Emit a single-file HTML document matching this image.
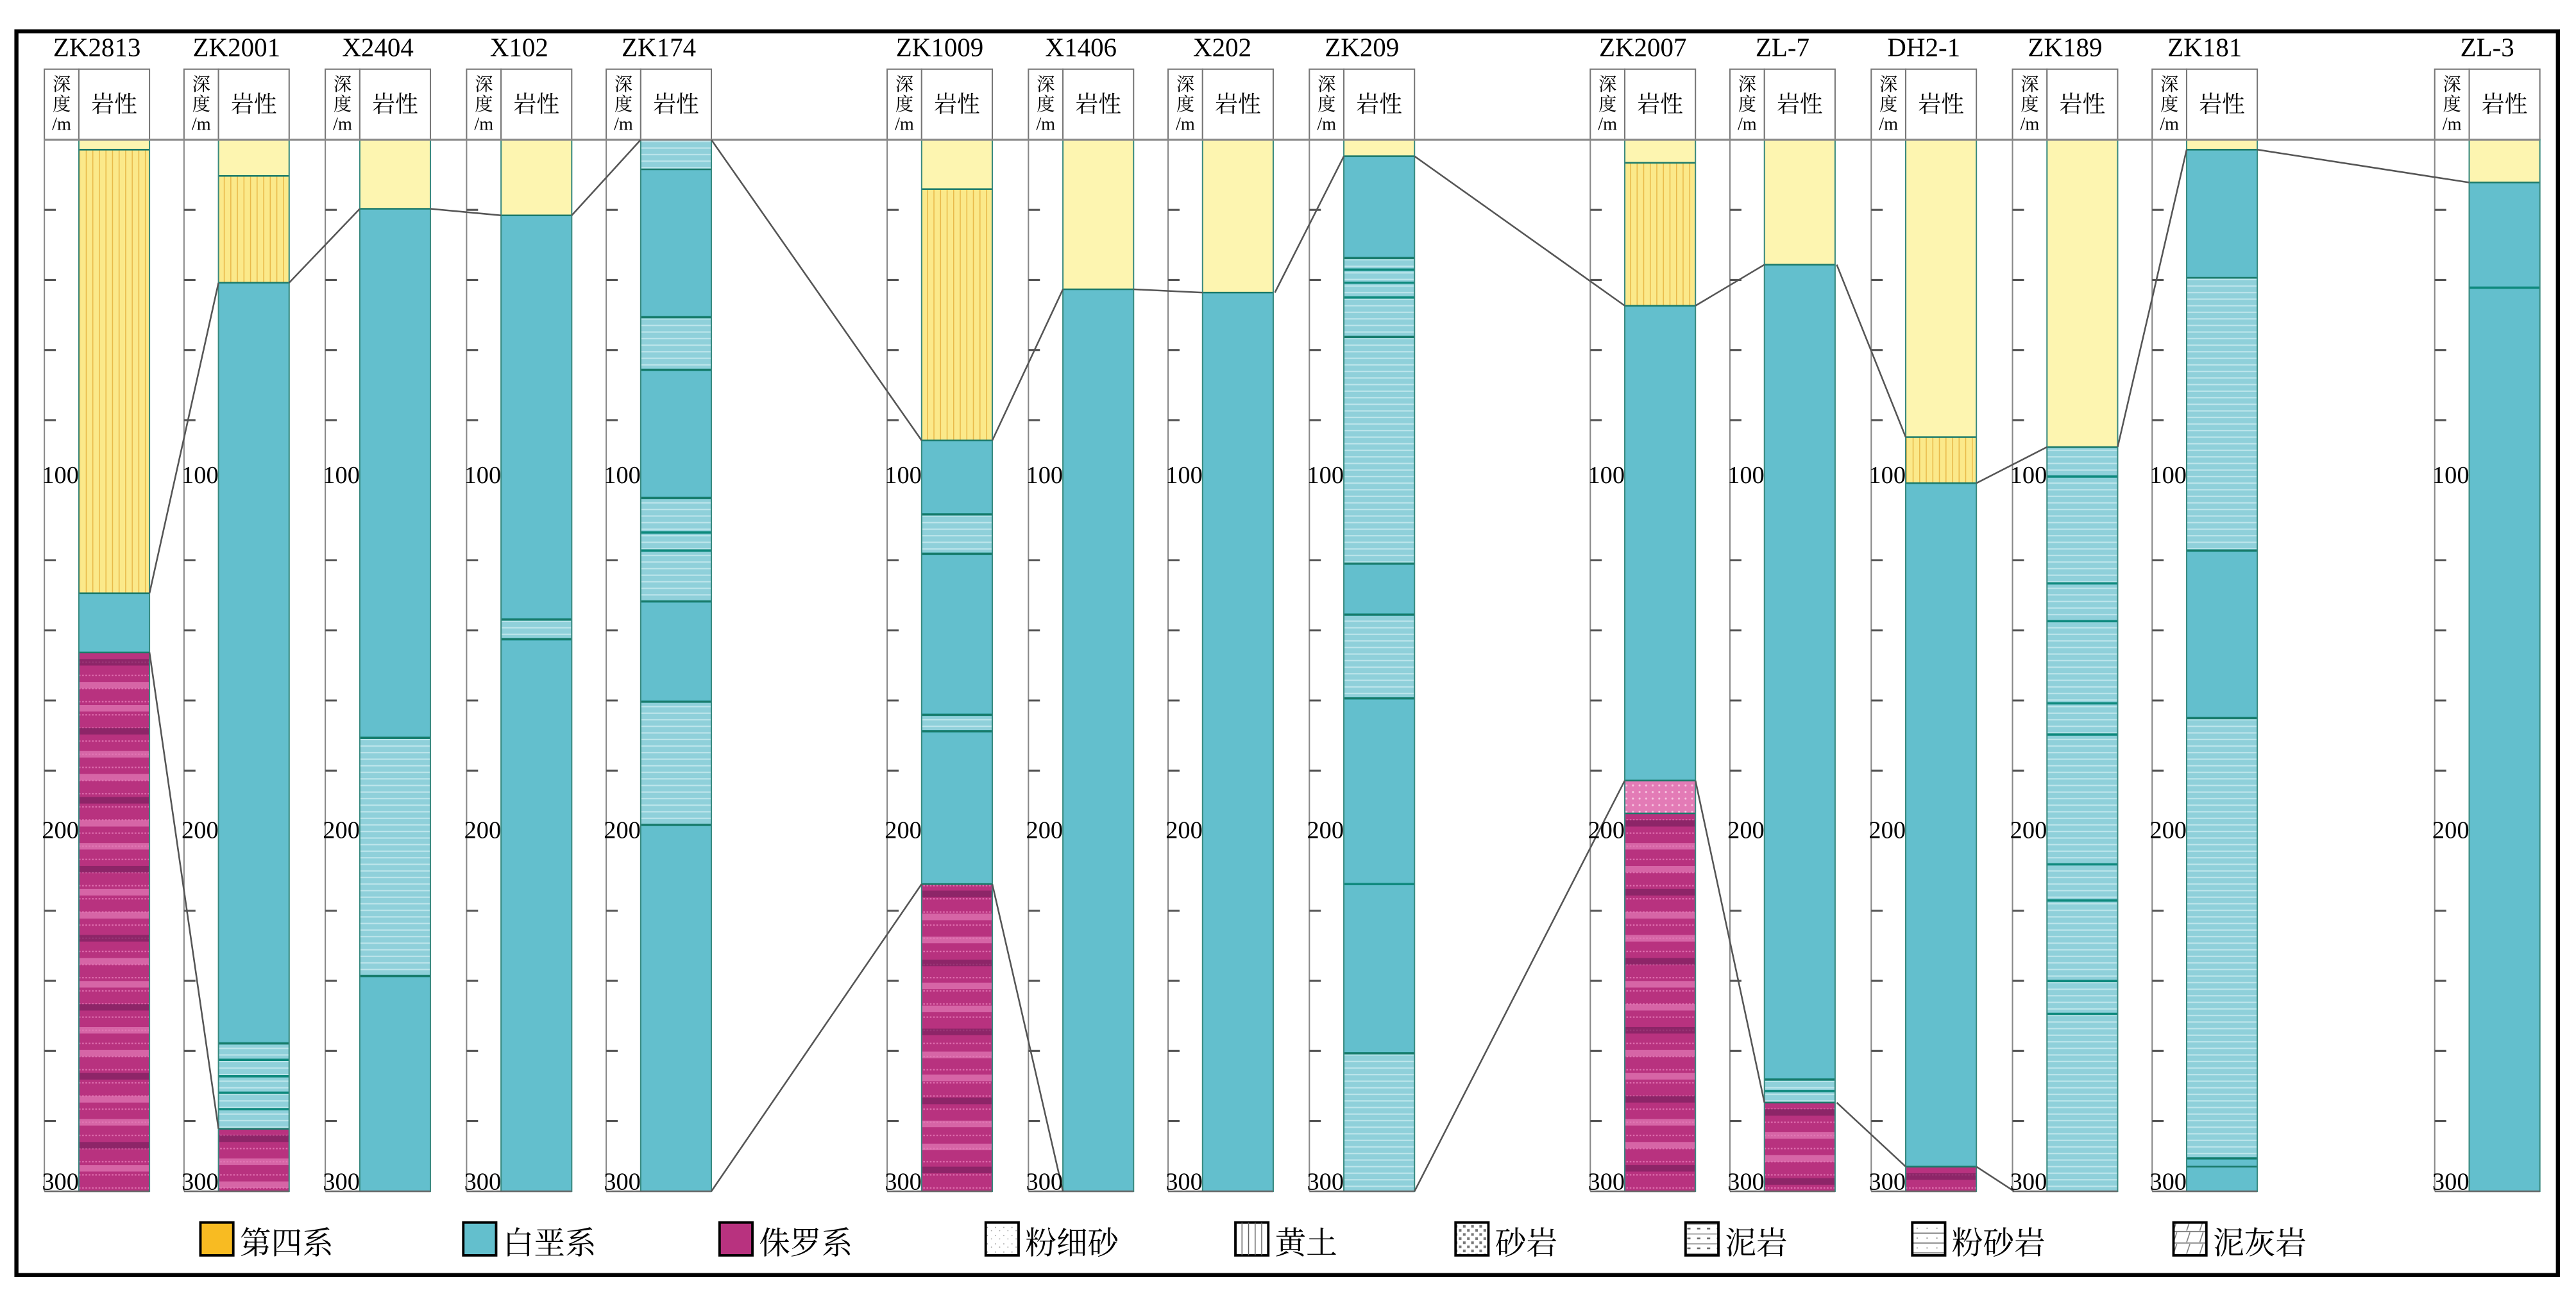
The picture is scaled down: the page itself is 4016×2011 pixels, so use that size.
<!DOCTYPE html>
<html><head><meta charset="utf-8"><style>
html,body{margin:0;padding:0;background:#fff;}
svg{display:block}
text{font-family:"Liberation Serif","Noto Serif CJK SC",serif;}
.cn{font-family:"Liberation Serif","Noto Serif CJK SC","Noto Sans CJK SC",serif;}
</style></head><body>
<svg id="s" width="4016" height="2011" viewBox="0 0 1568 785" xmlns="http://www.w3.org/2000/svg">
<defs>
<pattern id="loess" width="4" height="10" patternUnits="userSpaceOnUse"><rect width="4" height="10" fill="#fbe98a"/><line x1="0.5" y1="0" x2="0.5" y2="10" stroke="#e8b94a" stroke-width="0.6"/></pattern>
<pattern id="tlight" width="6" height="4" patternUnits="userSpaceOnUse"><rect width="6" height="4" fill="#8fd0da"/><line x1="0" y1="2" x2="6" y2="2" stroke="#bfe6ec" stroke-width="0.8"/></pattern>
<pattern id="mag" width="6" height="8" patternUnits="userSpaceOnUse"><rect width="6" height="8" fill="#b8327f"/><line x1="0" y1="3" x2="6" y2="3" stroke="#e070b0" stroke-width="0.8" stroke-dasharray="1 1"/></pattern>
<pattern id="pdot" width="4" height="4" patternUnits="userSpaceOnUse"><rect width="4" height="4" fill="#e37bb6"/><circle cx="2" cy="2" r="0.6" fill="#f6c6e0"/></pattern>
<pattern id="lsand" width="5" height="5" patternUnits="userSpaceOnUse"><rect width="5" height="5" fill="#fff"/><circle cx="1" cy="2" r="0.35" fill="#999"/><circle cx="3.5" cy="4" r="0.35" fill="#999"/></pattern>
<pattern id="lss" width="5" height="5" patternUnits="userSpaceOnUse"><rect width="5" height="5" fill="#fff"/><rect x="0.5" y="0.5" width="1.6" height="1.6" fill="#777"/><rect x="3" y="3" width="1.6" height="1.6" fill="#777"/></pattern>
<pattern id="lmud" width="6" height="6" patternUnits="userSpaceOnUse"><rect width="6" height="6" fill="#fff"/><line x1="0" y1="1" x2="6" y2="1" stroke="#888" stroke-width="0.6"/><rect x="1" y="3.2" width="2" height="1" fill="#666"/></pattern>
<pattern id="lsilt" width="6" height="6" patternUnits="userSpaceOnUse"><rect width="6" height="6" fill="#fff"/><line x1="0" y1="0.5" x2="6" y2="0.5" stroke="#777" stroke-width="0.7"/><circle cx="3" cy="3.5" r="0.4" fill="#888"/></pattern>
<pattern id="lmarl" width="8" height="7" patternUnits="userSpaceOnUse"><rect width="8" height="7" fill="#fff"/><line x1="0" y1="0.5" x2="8" y2="0.5" stroke="#777" stroke-width="0.7"/><line x1="5" y1="1" x2="3" y2="7" stroke="#777" stroke-width="0.6"/></pattern>
</defs>
<rect x="10" y="19" width="1547" height="757" fill="#fff" stroke="#000" stroke-width="2.5"/>
<g id="g"></g>
<g font-size="16" text-anchor="middle">
<text x="59" y="34">ZK2813</text><text x="144" y="34">ZK2001</text><text x="230" y="34">X2404</text><text x="316" y="34">X102</text><text x="401" y="34">ZK174</text>
<text x="572" y="34">ZK1009</text><text x="658" y="34">X1406</text><text x="744" y="34">X202</text><text x="829" y="34">ZK209</text>
<text x="1000" y="34">ZK2007</text><text x="1085" y="34">ZL-7</text><text x="1171" y="34">DH2-1</text><text x="1257" y="34">ZK189</text><text x="1342" y="34">ZK181</text><text x="1514" y="34">ZL-3</text>
</g>
<g font-size="19" class="cn">
<rect x="122" y="744" width="20" height="20" fill="#f8bb22" stroke="#000" stroke-width="1.5"/><text x="146" y="763">第四系</text>
<rect x="282" y="744" width="20" height="20" fill="#63bfcd" stroke="#000" stroke-width="1.5"/><text x="306" y="763">白垩系</text>
<rect x="438" y="744" width="20" height="20" fill="#b8327f" stroke="#000" stroke-width="1.5"/><text x="462" y="763">侏罗系</text>
<rect x="600" y="744" width="20" height="20" fill="url(#lsand)" stroke="#000" stroke-width="1.5"/><text x="624" y="763">粉细砂</text>
<rect x="752" y="744" width="20" height="20" fill="#fff" stroke="#000" stroke-width="1.5"/><g stroke="#666" stroke-width="0.6"><line x1="756" y1="744" x2="756" y2="764"/><line x1="760" y1="744" x2="760" y2="764"/><line x1="764" y1="744" x2="764" y2="764"/><line x1="768" y1="744" x2="768" y2="764"/></g><text x="776" y="763">黄土</text>
<rect x="886" y="744" width="20" height="20" fill="url(#lss)" stroke="#000" stroke-width="1.5"/><text x="910" y="763">砂岩</text>
<rect x="1026" y="744" width="20" height="20" fill="url(#lmud)" stroke="#000" stroke-width="1.5"/><text x="1050" y="763">泥岩</text>
<rect x="1164" y="744" width="20" height="20" fill="url(#lsilt)" stroke="#000" stroke-width="1.5"/><text x="1188" y="763">粉砂岩</text>
<rect x="1323" y="744" width="20" height="20" fill="url(#lmarl)" stroke="#000" stroke-width="1.5"/><text x="1347" y="763">泥灰岩</text>
</g>
<g font-size="15" text-anchor="end" id="nums">
<text x="48" y="294">100</text><text x="48" y="510">200</text><text x="48" y="724">300</text>
<text x="133" y="294">100</text><text x="133" y="510">200</text><text x="133" y="724">300</text>
<text x="219" y="294">100</text><text x="219" y="510">200</text><text x="219" y="724">300</text>
<text x="305" y="294">100</text><text x="305" y="510">200</text><text x="305" y="724">300</text>
<text x="390" y="294">100</text><text x="390" y="510">200</text><text x="390" y="724">300</text>
<text x="561" y="294">100</text><text x="561" y="510">200</text><text x="561" y="724">300</text>
<text x="647" y="294">100</text><text x="647" y="510">200</text><text x="647" y="724">300</text>
<text x="732" y="294">100</text><text x="732" y="510">200</text><text x="732" y="724">300</text>
<text x="818" y="294">100</text><text x="818" y="510">200</text><text x="818" y="724">300</text>
<text x="989" y="294">100</text><text x="989" y="510">200</text><text x="989" y="724">300</text>
<text x="1074" y="294">100</text><text x="1074" y="510">200</text><text x="1074" y="724">300</text>
<text x="1160" y="294">100</text><text x="1160" y="510">200</text><text x="1160" y="724">300</text>
<text x="1246" y="294">100</text><text x="1246" y="510">200</text><text x="1246" y="724">300</text>
<text x="1331" y="294">100</text><text x="1331" y="510">200</text><text x="1331" y="724">300</text>
<text x="1503" y="294">100</text><text x="1503" y="510">200</text><text x="1503" y="724">300</text>
</g>
<g font-size="11" text-anchor="middle" class="cn">
<g><text x="37.5" y="55">深</text><text x="37.5" y="67">度</text><text x="37.5" y="79">/m</text><text x="69.5" y="68" font-size="14">岩性</text></g>
<g transform="translate(85,0)"><text x="37.5" y="55">深</text><text x="37.5" y="67">度</text><text x="37.5" y="79">/m</text><text x="69.5" y="68" font-size="14">岩性</text></g>
<g transform="translate(171,0)"><text x="37.5" y="55">深</text><text x="37.5" y="67">度</text><text x="37.5" y="79">/m</text><text x="69.5" y="68" font-size="14">岩性</text></g>
<g transform="translate(257,0)"><text x="37.5" y="55">深</text><text x="37.5" y="67">度</text><text x="37.5" y="79">/m</text><text x="69.5" y="68" font-size="14">岩性</text></g>
<g transform="translate(342,0)"><text x="37.5" y="55">深</text><text x="37.5" y="67">度</text><text x="37.5" y="79">/m</text><text x="69.5" y="68" font-size="14">岩性</text></g>
<g transform="translate(513,0)"><text x="37.5" y="55">深</text><text x="37.5" y="67">度</text><text x="37.5" y="79">/m</text><text x="69.5" y="68" font-size="14">岩性</text></g>
<g transform="translate(599,0)"><text x="37.5" y="55">深</text><text x="37.5" y="67">度</text><text x="37.5" y="79">/m</text><text x="69.5" y="68" font-size="14">岩性</text></g>
<g transform="translate(684,0)"><text x="37.5" y="55">深</text><text x="37.5" y="67">度</text><text x="37.5" y="79">/m</text><text x="69.5" y="68" font-size="14">岩性</text></g>
<g transform="translate(770,0)"><text x="37.5" y="55">深</text><text x="37.5" y="67">度</text><text x="37.5" y="79">/m</text><text x="69.5" y="68" font-size="14">岩性</text></g>
<g transform="translate(941,0)"><text x="37.5" y="55">深</text><text x="37.5" y="67">度</text><text x="37.5" y="79">/m</text><text x="69.5" y="68" font-size="14">岩性</text></g>
<g transform="translate(1026,0)"><text x="37.5" y="55">深</text><text x="37.5" y="67">度</text><text x="37.5" y="79">/m</text><text x="69.5" y="68" font-size="14">岩性</text></g>
<g transform="translate(1112,0)"><text x="37.5" y="55">深</text><text x="37.5" y="67">度</text><text x="37.5" y="79">/m</text><text x="69.5" y="68" font-size="14">岩性</text></g>
<g transform="translate(1198,0)"><text x="37.5" y="55">深</text><text x="37.5" y="67">度</text><text x="37.5" y="79">/m</text><text x="69.5" y="68" font-size="14">岩性</text></g>
<g transform="translate(1283,0)"><text x="37.5" y="55">深</text><text x="37.5" y="67">度</text><text x="37.5" y="79">/m</text><text x="69.5" y="68" font-size="14">岩性</text></g>
<g transform="translate(1455,0)"><text x="37.5" y="55">深</text><text x="37.5" y="67">度</text><text x="37.5" y="79">/m</text><text x="69.5" y="68" font-size="14">岩性</text></g>
</g>
</svg>
<script>
var NS="http://www.w3.org/2000/svg",g=document.getElementById('g');
function el(t,a,p){var e=document.createElementNS(NS,t);for(var k in a)e.setAttribute(k,a[k]);(p||g).appendChild(e);return e;}
var X=[27,112,198,284,369,540,626,711,797,968,1053,1139,1225,1310,1482];
var Y='#fdf5b0',L='url(#loess)',T='#63bfcd',TL='url(#tlight)',M='url(#mag)',P='url(#pdot)';
var W=[
[[85,91,Y],[91,361,L],[361,397,T],[397,725,M]],
[[85,107,Y],[107,172,L],[172,635,T],[635,687,TL],[687,725,M]],
[[85,127,Y],[127,449,T],[449,594,TL],[594,725,T]],
[[85,131,Y],[131,377,T],[377,389,TL],[389,725,T]],
[[85,103,TL],[103,193,T],[193,225,TL],[225,303,T],[303,366,TL],[366,427,T],[427,502,TL],[502,725,T]],
[[85,115,Y],[115,268,L],[268,313,T],[313,337,TL],[337,435,T],[435,445,TL],[445,538,T],[538,725,M]],
[[85,176,Y],[176,725,T]],
[[85,178,Y],[178,725,T]],
[[85,95,Y],[95,157,T],[157,205,TL],[205,343,TL],[343,374,T],[374,425,TL],[425,641,T],[641,725,TL]],
[[85,99,Y],[99,186,L],[186,475,T],[475,495,P],[495,725,M]],
[[85,161,Y],[161,657,T],[657,671,TL],[671,725,M]],
[[85,266,Y],[266,294,L],[294,710,T],[710,725,M]],
[[85,272,Y],[272,725,TL]],
[[85,91,Y],[91,169,T],[169,335,TL],[335,437,T],[437,705,TL],[705,710,T],[710,725,T]],
[[85,111,Y],[111,725,T]]];
var lines={4:[193,225,303,324,335,366,427,502],8:[157,164,172,181,205,343,374,425,538,641],12:[290,355,378,428,447,526,548,597,617],13:[335,437,705],14:[175],2:[449,594],3:[377,389],1:[635,645,655,665,675],5:[313,337,435,445],10:[657,664]};
X.forEach(function(x,i){
 var lx=x+21,w=43;
 el('rect',{x:x,y:42,width:21,height:43,fill:'#fff',stroke:'#777','stroke-width':0.8});
 el('rect',{x:lx,y:42,width:w,height:43,fill:'#fff',stroke:'#777','stroke-width':0.8});
 W[i].forEach(function(s){el('rect',{x:lx,y:s[0],width:w,height:s[1]-s[0],fill:s[2]});
  if(s[2]===M){var k=0;for(var yy=s[0]+4;yy<s[1]-3;yy+=14,k++)el('rect',{x:lx,y:yy,width:w,height:4,fill:(k%3==0)?'#7a1f5e':'#e37bb6',opacity:0.7});}
 });
 (lines[i]||[]).forEach(function(yy){el('line',{x1:lx,y1:yy,x2:lx+w,y2:yy,stroke:'#0f8a7e','stroke-width':1.4});});
 W[i].forEach(function(s){if(s[0]>85)el('line',{x1:lx,y1:s[0],x2:lx+w,y2:s[0],stroke:'#1a7a6a','stroke-width':1});});
 el('rect',{x:lx,y:85,width:w,height:640,fill:'none',stroke:'#3a8a80','stroke-width':0.8});
 el('line',{x1:x,y1:85,x2:x,y2:725,stroke:'#888','stroke-width':0.8});
 el('line',{x1:x,y1:725,x2:lx+w,y2:725,stroke:'#666','stroke-width':1});
 for(var d=20;d<300;d+=20){if(d%100)el('line',{x1:x,y1:85+d*2.133,x2:x+7,y2:85+d*2.133,stroke:'#555','stroke-width':1.2});}
});
el('line',{x1:27,y1:85,x2:1546,y2:85,stroke:'#888','stroke-width':1.2});
var C=[[91,361,133,172],[91,397,133,687],[176,172,219,127],[262,127,305,131],[348,131,390,85],[433,85,561,268],[433,725,561,538],[604,268,647,176],[604,538,647,725],[690,176,732,178],[776,178,818,95],[861,95,989,186],[861,725,989,475],[1032,186,1074,161],[1032,475,1074,671],[1118,161,1160,266],[1118,671,1160,710],[1203,294,1246,272],[1203,710,1226,725],[1289,272,1331,91],[1374,91,1503,111]];
C.forEach(function(c){el('line',{x1:c[0],y1:c[1],x2:c[2],y2:c[3],stroke:'#555','stroke-width':1});});
</script>
</body></html>
